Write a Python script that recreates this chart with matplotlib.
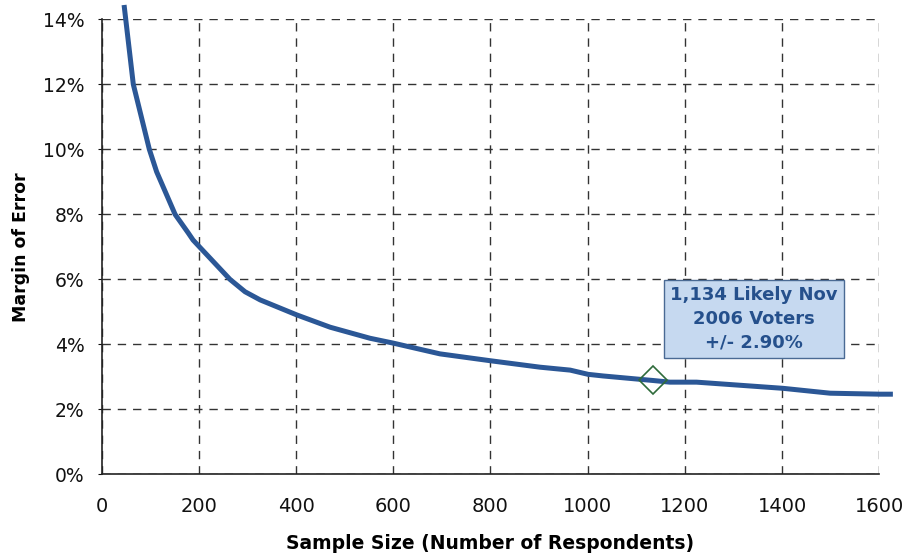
import matplotlib
matplotlib.use("Agg")
import matplotlib.pyplot as plt
from matplotlib.ticker import FuncFormatter

# ---- data ----
sample_size = [46, 65, 98, 113, 151, 178, 188, 264, 295, 326, 401, 470, 552, 600,
               696, 799, 902, 964, 1001, 1032, 1135, 1169, 1224, 1402, 1499, 1601, 1628]
margin_error = [14.44, 12.0, 10.0, 9.31, 8.0, 7.43, 7.21, 6.0, 5.62, 5.37, 4.91, 4.53, 4.19, 4.04,
                3.71, 3.50, 3.30, 3.21, 3.08, 3.03, 2.89, 2.84, 2.84, 2.65, 2.50, 2.47, 2.47]
highlight_n = 1134
highlight_moe = 2.90
annotation = "1,134 Likely Nov\n2006 Voters\n+/- 2.90%"
x_ticks = [0, 200, 400, 600, 800, 1000, 1200, 1400, 1600]
y_ticks = [0, 2, 4, 6, 8, 10, 12, 14]

line_color = "#2B5796"
text_blue = "#25508C"

fig = plt.figure(figsize=(9.09, 5.56), dpi=100)
ax = fig.add_axes([0.1119, 0.1466, 0.9673 - 0.1119, 0.9653 - 0.1466])

ax.plot(sample_size, margin_error, color=line_color, lw=3.6, clip_on=False,
        solid_capstyle="butt", solid_joinstyle="round", zorder=3)
ax.plot([highlight_n], [highlight_moe], marker="D", ms=14.5, mfc="none",
        mec="#2E6B3A", mew=1.2, ls="none", zorder=4, clip_on=False)

ax.text(1342, 4.78, annotation, ha="center", va="center", fontsize=13,
        fontweight="bold", color=text_blue, linespacing=1.4, zorder=5,
        bbox=dict(boxstyle="square,pad=0.35", fc="#C6D9F0", ec="#4A6A94", lw=1.0))

ax.set_xlim(0, 1600)
ax.set_ylim(0, 14)
ax.set_xticks(x_ticks)
ax.set_yticks(y_ticks)
ax.yaxis.set_major_formatter(FuncFormatter(lambda v, p: f"{v:.0f}%"))

ax.grid(True, color="#333333", lw=1.0, ls=(0, (6, 5)))
ax.set_axisbelow(True)

for s in ["top", "right"]:
    ax.spines[s].set_visible(False)
ax.spines["left"].set_color("#222222")
ax.spines["bottom"].set_color("#222222")
ax.spines["left"].set_linewidth(1.2)
ax.spines["bottom"].set_linewidth(1.2)

ax.tick_params(axis="y", length=3, pad=9.5, labelsize=13.5, colors="#111111")
ax.tick_params(axis="x", length=0, pad=16, labelsize=14, colors="#111111")

ax.set_xlabel("Sample Size (Number of Respondents)", fontsize=13.5,
              fontweight="bold", labelpad=13)
ax.set_ylabel("Margin of Error", fontsize=12.5, fontweight="bold", labelpad=9)

fig.savefig("out.png", dpi=100)
